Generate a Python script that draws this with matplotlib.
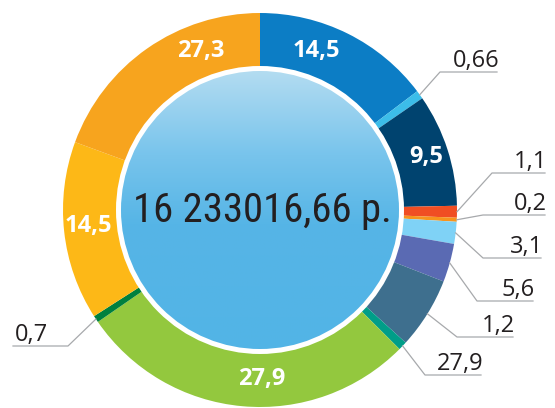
import numpy as np
import matplotlib.pyplot as plt
from matplotlib.patches import Circle
from matplotlib.colors import to_rgb

W, H = 555, 408

# доли сегментов (по углам на картинке), по часовой стрелке от 12 часов
shares = [14.7, 0.7, 9.25, 0.97, 0.33, 1.8, 3.15, 5.85, 0.72, 27.9, 0.56, 14.65, 19.4]
colors = ["#0c7dc5", "#3cbde9", "#00436f", "#f04e23", "#f7941d", "#7fd2f6", "#5a6ab3",
          "#3e6f8e", "#009e88", "#93c83e", "#00803e", "#fdb817", "#f7a41e"]

# подписи внутри кольца
inner_labels = ["14,5", "9,5", "27,9", "14,5", "27,3"]
inner_pos = [(316, 51), (426, 157), (262, 379), (88, 226), (201, 51)]

# выносные подписи
outer_labels = ["0,66", "1,1", "0,2", "3,1", "5,6", "1,2", "27,9", "0,7"]
outer_slices = [1, 3, 4, 5, 6, 7, 8, 10]
elbows = [(440, 72), (492, 173), (483, 215), (483, 258), (477, 301), (457, 337), (425, 375), (68, 346)]
ends = [497, 545, 545, 541, 533, 513, 481, 13]

total_text = "16 233016,66 р."

cx, cy = 260, 210   # центр в пикселях (y сверху)
R = 197
r_in = 138

fig = plt.figure(figsize=(W / 100, H / 100), dpi=100)
ax = fig.add_axes([0, 0, 1, 1])

def py(y):
    return H - y

wedges, _ = ax.pie(shares, colors=colors, startangle=90, counterclock=False,
                   center=(cx, py(cy)), radius=R,
                   wedgeprops=dict(width=R - r_in, linewidth=0))

# внутренний круг с белой обводкой
ax.add_patch(Circle((cx, py(cy)), 144, fc="white", ec="none", zorder=3))
clip = Circle((cx, py(cy)), 139, fc="none", ec="none", transform=ax.transData)
stops = [to_rgb("#b3dcf1"), to_rgb("#78c4ec"), to_rgb("#56b5e6"), to_rgb("#52b4e6")]
t = np.linspace(0, 1, 300)
pos = [0, 0.3, 0.55, 1]
grad = np.stack([np.interp(t, pos, [s[i] for s in stops]) for i in range(3)], axis=1)
img = np.repeat(grad[:, None, :], 2, axis=1)
im = ax.imshow(img, extent=(cx - 139, cx + 139, py(cy) - 139, py(cy) + 139),
               origin="upper", aspect="auto", zorder=4, interpolation="bilinear")
im.set_clip_path(clip)

# узкий шрифт, если есть; размер подгоняем под ширину ~259 px
big = ax.text(262, py(222), total_text, ha="center", va="baseline", fontsize=35,
              color="#231f20", fontstretch="condensed",
              family=["Roboto Condensed", "Liberation Sans Narrow", "Noto Sans", "DejaVu Sans"],
              zorder=5)
fig.canvas.draw()
bw = big.get_window_extent().width
big.set_fontsize(min(40, 35 * 259 / bw))

for lab, (x, y) in zip(inner_labels, inner_pos):
    ax.text(x, py(y), lab, ha="center", va="center", fontsize=17, fontweight="bold",
            color="white", family=["Open Sans", "DejaVu Sans"], zorder=5)

for lab, i, (ex, ey), end in zip(outer_labels, outer_slices, elbows, ends):
    w = wedges[i]
    a = np.deg2rad((w.theta1 + w.theta2) / 2)
    sx = cx + R * np.cos(a)
    sy = py(cy) + R * np.sin(a)
    ax.plot([sx, ex, end], [sy, py(ey), py(ey)], color="#a7a9ac", lw=0.9, zorder=2)
    if end > ex:
        ax.text(end + 2, py(ey) + 5, lab, ha="right", va="baseline", fontsize=17,
                color="#231f20", family=["Open Sans", "DejaVu Sans"])
    else:
        ax.text(end + 2, py(ey) + 5, lab, ha="left", va="baseline", fontsize=17,
                color="#231f20", family=["Open Sans", "DejaVu Sans"])

ax.set_xlim(0, W)
ax.set_ylim(0, H)
ax.axis("off")

fig.savefig("out.png", dpi=100)
